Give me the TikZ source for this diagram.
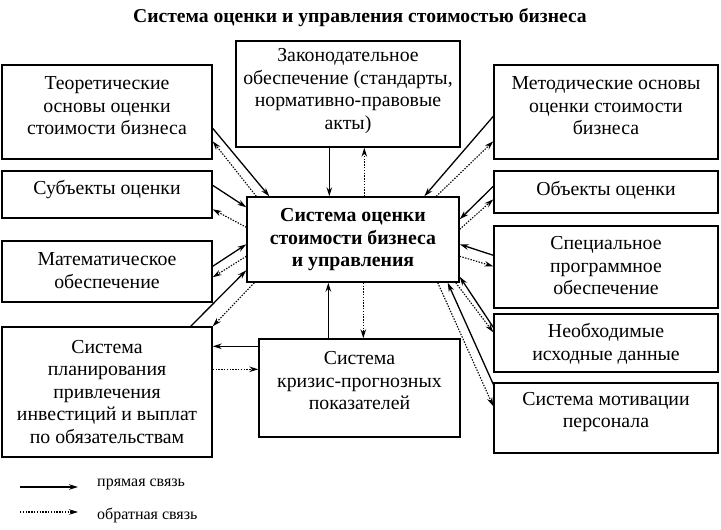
\documentclass[tikz,border=0pt]{standalone}
\usepackage{fontspec}
\setmainfont{Liberation Serif}
\usetikzlibrary{arrows.meta,calc}
\begin{document}
\begin{tikzpicture}[x=1pt,y=-1pt,
  box/.style={draw,line width=1.4pt,inner sep=0pt},
  txt/.style={align=center,font=\fontsize{19.8}{22.5}\selectfont,inner sep=0pt},
  direct/.style={line width=1.3pt,-{Stealth[length=9pt,width=5.5pt]}},
  feedback/.style={line width=1.1pt,dash pattern=on 1.4pt off 1.4pt,-{Stealth[length=9pt,width=5.5pt]}}]
\useasboundingbox[fill=white] (0,0) rectangle (721,530);

\node[font=\bfseries\fontsize{19.6}{22}\selectfont] (title) at (360,18) {Система оценки и управления стоимостью бизнеса};

% boxes
\node[box,minimum width=224,minimum height=106] (zak) at (348,94) {};
\node[txt] (zakt) at (348,91) {Законодательное\\обеспечение (стандарты,\\нормативно-правовые\\акты)};
\node[box,minimum width=210,minimum height=94] (teor) at (107,112) {};
\node[txt] (teort) at (107,106) {Теоретические\\основы оценки\\стоимости бизнеса};
\node[box,minimum width=210,minimum height=47] (subj) at (107,194.5) {};
\node[txt] (subjt) at (107,190) {Субъекты оценки};
\node[box,minimum width=210,minimum height=61] (mat) at (107,271.5) {};
\node[txt] (matt) at (107,270.5) {Математическое\\обеспечение};
\node[box,minimum width=210,minimum height=130] (plan) at (107,392) {};
\node[txt] (plant) at (107,392) {Система\\планирования\\привлечения\\инвестиций и выплат\\по обязательствам};
\node[box,minimum width=212,minimum height=85] (cen) at (353,239.5) {};
\node[txt,font=\bfseries\fontsize{19.8}{22.5}\selectfont] (cent) at (353,240) {Система оценки\\стоимости бизнеса\\и управления};
\node[box,minimum width=201,minimum height=98] (kriz) at (359.5,388) {};
\node[txt] (krizt) at (359.5,381) {Система\\кризис-прогнозных\\показателей};
\node[box,minimum width=224,minimum height=94] (met) at (606,112) {};
\node[txt] (mett) at (606,106) {Методические основы\\оценки стоимости\\бизнеса};
\node[box,minimum width=224,minimum height=42] (obj) at (606,192) {};
\node[txt] (objt) at (606,190) {Объекты оценки};
\node[box,minimum width=224,minimum height=82] (spec) at (606,267) {};
\node[txt] (spect) at (606,266) {Специальное\\программное\\обеспечение};
\node[box,minimum width=224,minimum height=58] (neob) at (606,343) {};
\node[txt] (neobt) at (606,344) {Необходимые\\исходные данные};
\node[box,minimum width=224,minimum height=70] (mot) at (606,418) {};
\node[txt] (mott) at (606,412) {Система мотивации\\персонала};

% direct links
\draw[direct] ($(zak.south west)+(94,0)$) -- ($(cen.north west)+(83,0)$);
\draw[direct] ($(teor.north east)+(0,64)$) -- ($(cen.north west)+(23,0)$);
\draw[direct] ($(subj.north east)+(0,15)$) -- ($(cen.north west)+(0,11)$);
\draw[direct] ($(mat.north east)+(0,26)$) -- ($(cen.north west)+(0,48)$);
\draw[direct] ($(plan.north east)+(-22,0)$) -- ($(cen.north west)+(0,74)$);
\draw[direct] ($(kriz.north west)+(0,8)$) -- ($(plan.north east)+(0,20)$);
\draw[direct] ($(kriz.north west)+(70,0)$) -- ($(cen.south west)+(82,0)$);
\draw[direct] ($(met.north west)+(0,52)$) -- ($(cen.north west)+(178,0)$);
\draw[direct] ($(obj.north west)+(0,16)$) -- ($(cen.north east)+(0,23)$);
\draw[direct] ($(spec.north west)+(0,30)$) -- ($(cen.north east)+(0,48)$);
\draw[direct] ($(neob.north west)+(0,14)$) -- ($(cen.south east)+(0,-6)$);
\draw[direct] ($(mot.north west)+(0,2)$) -- ($(cen.south east)+(-12,0)$);

% feedback links
\draw[feedback] ($(cen.north west)+(118,0)$) -- ($(zak.south west)+(129,0)$);
\draw[feedback] ($(cen.north west)+(10,0)$) -- ($(teor.north east)+(0,77)$);
\draw[feedback] ($(cen.north west)+(0,31)$) -- ($(subj.north east)+(0,39)$);
\draw[feedback] ($(cen.north west)+(0,60)$) -- ($(mat.north east)+(0,37)$);
\draw[feedback] ($(cen.south west)+(8,0)$) -- (plan.north east);
\draw[feedback] ($(plan.north east)+(0,43)$) -- ($(kriz.north west)+(0,31)$);
\draw[feedback] ($(cen.south west)+(117,0)$) -- ($(kriz.north west)+(105,0)$);
\draw[feedback] ($(cen.north west)+(190,0)$) -- ($(met.north west)+(0,77)$);
\draw[feedback] ($(cen.north east)+(0,33)$) -- ($(obj.north west)+(0,29)$);
\draw[feedback] ($(cen.north east)+(0,60)$) -- ($(spec.north west)+(0,41)$);
\draw[feedback] ($(cen.south east)+(-4,0)$) -- ($(neob.north west)+(0,19)$);
\draw[feedback] ($(cen.south east)+(-22,0)$) -- ($(mot.north west)+(0,24)$);

% legend
\coordinate (l1a) at (20,487);
\coordinate (l1b) at (78,487);
\coordinate (l2a) at (20,512);
\coordinate (l2b) at (78,512);
\draw[direct] (l1a) -- (l1b);
\draw[feedback] (l2a) -- (l2b);
\node[anchor=west,font=\fontsize{16}{18}\selectfont,inner sep=0pt] (lg1) at (97,484) {прямая связь};
\node[anchor=west,font=\fontsize{16}{18}\selectfont,inner sep=0pt] (lg2) at (97,515) {обратная связь};
\end{tikzpicture}
\end{document}
